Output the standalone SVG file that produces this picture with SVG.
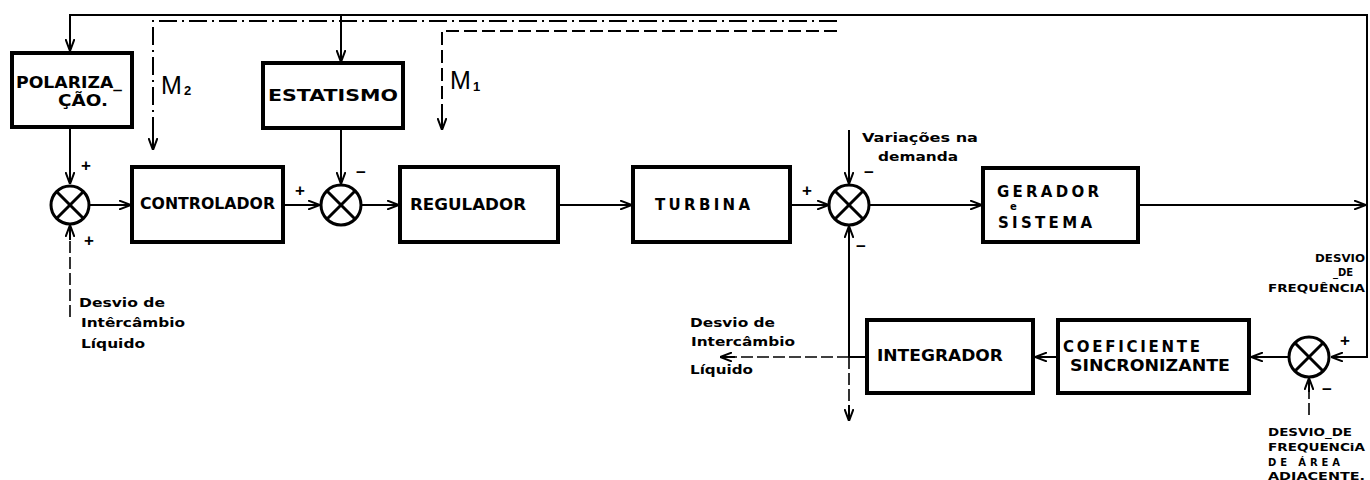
<svg xmlns="http://www.w3.org/2000/svg" width="1370" height="480" viewBox="0 0 1370 480">
<defs>
<marker id="arr" markerUnits="userSpaceOnUse" viewBox="0 0 12 10" refX="12" refY="5" markerWidth="12" markerHeight="10" orient="auto">
<path d="M0,0.5 L12,5 L0,9.5" fill="none" stroke="#000" stroke-width="2"/>
</marker>
</defs>
<style>
.box{fill:#fff;stroke:#000;stroke-width:4}
.ln{fill:none;stroke:#000;stroke-width:2}
.dd{fill:none;stroke:#000;stroke-width:2;stroke-dasharray:18 5 2 5}
.ds{fill:none;stroke:#000;stroke-width:2;stroke-dasharray:13 5}
.dl{fill:none;stroke:#000;stroke-width:1.6;stroke-dasharray:12 4}
.sum{fill:#fff;stroke:#000;stroke-width:3}
.x{stroke:#000;stroke-width:3}
.bt{font-family:"DejaVu Sans","Liberation Sans",sans-serif;font-weight:bold;font-size:15px;fill:#000}
.st{font-family:"DejaVu Sans","Liberation Sans",sans-serif;font-weight:bold;font-size:13px;fill:#000}
.tt{font-family:"DejaVu Sans","Liberation Sans",sans-serif;font-weight:bold;font-size:10px;fill:#000}
.sg{font-family:"Liberation Sans",Arial,sans-serif;font-weight:bold;font-size:17px;fill:#000;text-anchor:middle}
.m{font-family:"Liberation Sans",Arial,sans-serif;font-size:25px;fill:#000}
.ms{font-family:"Liberation Sans",Arial,sans-serif;font-weight:bold;font-size:13px;fill:#000}
</style>
<g id="connectors">
<polyline class="ln" points="70,50 70,15 1367,15 1367,357 1331,357" marker-end="url(#arr)"/>
<line class="ln" x1="70" y1="15" x2="70" y2="51" marker-end="url(#arr)"/>
<line class="ln" x1="341" y1="15" x2="341" y2="62" marker-end="url(#arr)"/>
<polyline class="dd" points="837,21 153,21 153,148"/>
<line class="ln" x1="153" y1="135" x2="153" y2="150" marker-end="url(#arr)"/>
<polyline class="ds" points="837,31 442,31 442,128"/>
<line class="ln" x1="442" y1="115" x2="442" y2="130" marker-end="url(#arr)"/>
<line class="ln" x1="70" y1="127" x2="70" y2="184" marker-end="url(#arr)"/>
<line class="ln" x1="90" y1="205" x2="131" y2="205" marker-end="url(#arr)"/>
<polyline class="dl" points="70,317 70,240"/>
<line class="ln" x1="70" y1="240" x2="70" y2="225" marker-end="url(#arr)"/>
<line class="ln" x1="285" y1="205" x2="320" y2="205" marker-end="url(#arr)"/>
<line class="ln" x1="341" y1="129" x2="341" y2="184" marker-end="url(#arr)"/>
<line class="ln" x1="362" y1="205" x2="399" y2="205" marker-end="url(#arr)"/>
<line class="ln" x1="560" y1="205" x2="632" y2="205" marker-end="url(#arr)"/>
<line class="ln" x1="792" y1="205" x2="829" y2="205" marker-end="url(#arr)"/>
<line class="ln" x1="849" y1="130" x2="849" y2="184" marker-end="url(#arr)"/>
<line class="ln" x1="870" y1="205" x2="982" y2="205" marker-end="url(#arr)"/>
<line class="ln" x1="1140" y1="205" x2="1366" y2="205" marker-end="url(#arr)"/>
<line class="ln" x1="849" y1="357" x2="849" y2="226" marker-end="url(#arr)"/>
<line class="ln" x1="849" y1="357" x2="866" y2="357"/>
<polyline class="dl" points="849,357 849,410"/>
<line class="ln" x1="849" y1="405" x2="849" y2="421" marker-end="url(#arr)"/>
<polyline class="dl" points="849,357 732,357"/>
<line class="ln" x1="735" y1="357" x2="720" y2="357" marker-end="url(#arr)"/>
<line class="ln" x1="1057" y1="357" x2="1035" y2="357" marker-end="url(#arr)"/>
<line class="ln" x1="1289" y1="357" x2="1251" y2="357" marker-end="url(#arr)"/>
<polyline class="dl" points="1309,415 1309,392"/>
<line class="ln" x1="1309" y1="392" x2="1309" y2="378" marker-end="url(#arr)"/>
</g>
<g id="polarizacao">
<rect class="box" x="12" y="53" width="120" height="74"/>
<text class="bt" x="16" y="88" textLength="106" lengthAdjust="spacingAndGlyphs">POLARIZA_</text>
<text class="bt" x="58" y="106" textLength="50" lengthAdjust="spacingAndGlyphs">ÇÃO.</text>
</g>
<g id="estatismo">
<rect class="box" x="263" y="63" width="140" height="65"/>
<text class="bt" x="268" y="101" textLength="130" lengthAdjust="spacingAndGlyphs">ESTATISMO</text>
</g>
<g id="controlador">
<rect class="box" x="132" y="167" width="151" height="75"/>
<text class="bt" x="140" y="209" textLength="135" lengthAdjust="spacingAndGlyphs">CONTROLADOR</text>
</g>
<g id="regulador">
<rect class="box" x="400" y="167" width="158" height="75"/>
<text class="bt" x="410" y="210" textLength="116" lengthAdjust="spacingAndGlyphs">REGULADOR</text>
</g>
<g id="turbina">
<rect class="box" x="633" y="167" width="157" height="75"/>
<text class="bt" x="655" y="210" textLength="95" lengthAdjust="spacing">TURBINA</text>
</g>
<g id="gerador">
<rect class="box" x="983" y="168" width="155" height="74"/>
<text class="bt" x="997" y="197" textLength="102" lengthAdjust="spacing">GERADOR</text>
<text class="tt" x="1010" y="210">e</text>
<text class="bt" x="998" y="228" textLength="94" lengthAdjust="spacing">SISTEMA</text>
</g>
<g id="integrador">
<rect class="box" x="867" y="320" width="166" height="73"/>
<text class="bt" x="877" y="361" textLength="126" lengthAdjust="spacingAndGlyphs">INTEGRADOR</text>
</g>
<g id="coeficiente">
<rect class="box" x="1058" y="320" width="191" height="73"/>
<text class="bt" x="1063" y="352" textLength="137" lengthAdjust="spacing">COEFICIENTE</text>
<text class="bt" x="1070" y="371" textLength="160" lengthAdjust="spacingAndGlyphs">SINCRONIZANTE</text>
</g>
<g id="sum1">
<circle class="sum" cx="70" cy="205" r="19"/>
<line class="x" x1="57" y1="192" x2="83" y2="218"/><line class="x" x1="83" y1="192" x2="57" y2="218"/>
</g>
<g id="sum2">
<circle class="sum" cx="341" cy="205" r="20"/>
<line class="x" x1="327" y1="191" x2="355" y2="219"/><line class="x" x1="355" y1="191" x2="327" y2="219"/>
</g>
<g id="sum3">
<circle class="sum" cx="849" cy="205" r="20"/>
<line class="x" x1="835" y1="191" x2="863" y2="219"/><line class="x" x1="863" y1="191" x2="835" y2="219"/>
</g>
<g id="sum4">
<circle class="sum" cx="1309" cy="357" r="20"/>
<line class="x" x1="1295" y1="343" x2="1323" y2="371"/><line class="x" x1="1323" y1="343" x2="1295" y2="371"/>
</g>
<g id="labels">
<text class="m" x="161" y="94">M</text><text class="ms" x="184" y="95">2</text>
<text class="m" x="450" y="89">M</text><text class="ms" x="473" y="91">1</text>
<text class="sg" x="86" y="171">+</text>
<text class="sg" x="89" y="246">+</text>
<text class="sg" x="300" y="196">+</text>
<text class="sg" x="361" y="178">−</text>
<text class="sg" x="807" y="196">+</text>
<text class="sg" x="869" y="178">−</text>
<text class="sg" x="861" y="252">−</text>
<text class="sg" x="1345" y="346">+</text>
<text class="sg" x="1327" y="395">−</text>
<text class="st" x="862" y="142" textLength="116" lengthAdjust="spacingAndGlyphs">Variações na</text>
<text class="st" x="878" y="161" textLength="80" lengthAdjust="spacingAndGlyphs">demanda</text>
<text class="st" x="79" y="307" textLength="86" lengthAdjust="spacingAndGlyphs">Desvio de</text>
<text class="st" x="81" y="327" textLength="104" lengthAdjust="spacingAndGlyphs">Intêrcâmbio</text>
<text class="st" x="81" y="348" textLength="64" lengthAdjust="spacingAndGlyphs">Líquido</text>
<text class="st" x="690" y="327" textLength="85" lengthAdjust="spacingAndGlyphs">Desvio de</text>
<text class="st" x="691" y="346" textLength="104" lengthAdjust="spacingAndGlyphs">Intercâmbio</text>
<text class="st" x="690" y="374" textLength="63" lengthAdjust="spacingAndGlyphs">Líquido</text>
<text class="tt" x="1315" y="262" textLength="50" lengthAdjust="spacingAndGlyphs">DESVIO</text>
<text class="tt" x="1333" y="276">_DE</text>
<text class="tt" x="1268" y="292" textLength="97" lengthAdjust="spacingAndGlyphs">FREQUÊNCIA</text>
<text class="tt" x="1268" y="436" textLength="84" lengthAdjust="spacingAndGlyphs">DESVIO_DE</text>
<text class="tt" x="1268" y="451" textLength="97" lengthAdjust="spacingAndGlyphs">FREQUENCiA</text>
<text class="tt" x="1268" y="466" textLength="72" lengthAdjust="spacing">DE  ÁREA</text>
<text class="tt" x="1268" y="480" textLength="97" lengthAdjust="spacingAndGlyphs">ADJACENTE.</text>
</g>
</svg>
